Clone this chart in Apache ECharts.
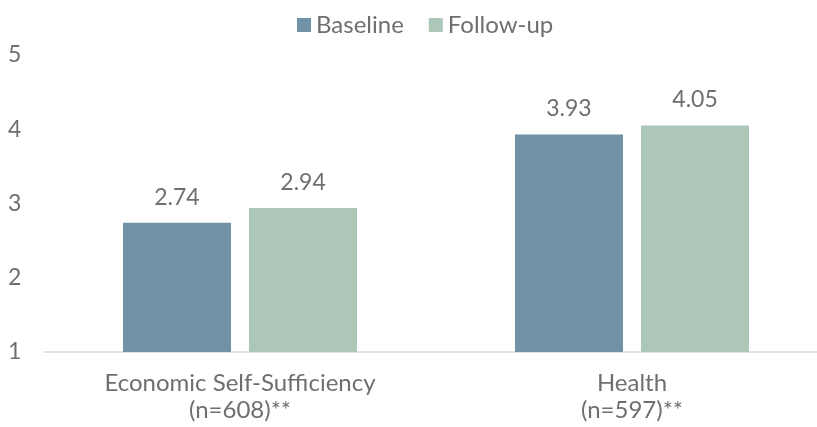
<!DOCTYPE html>
<html>
<head>
<meta charset="utf-8">
<script src="https://cdn.jsdelivr.net/npm/echarts@6/dist/echarts.min.js"></script>
<style>
  html, body { margin: 0; padding: 0; background: #fff; overflow: hidden; }
  #wrap { width: 817px; height: 427px; overflow: hidden; }
  #chart { width: 828px; height: 427px; }
</style>
</head>
<body>
<div id="wrap"><div id="chart"></div></div>
<script>
// Mean scores at baseline and follow-up by domain
const categories = ['Economic Self-Sufficiency\n(n=608)**', 'Health\n(n=597)**'];
const baseline = [2.74, 3.93];
const followUp = [2.94, 4.05];
const seriesNames = ['Baseline', 'Follow-up'];
const yTicks = [1, 2, 3, 4, 5];

const textColor = '#6f6f6f';
const font = 'Lato, "Noto Sans", sans-serif';
const numSize = 23;
const textSize = 24;

const chart = echarts.init(document.getElementById('chart'), null, { renderer: 'canvas' });

const labelOpt = {
  show: true,
  position: 'top',
  distance: 14,
  color: textColor,
  fontSize: numSize,
  fontFamily: font,
  formatter: p => p.value.toFixed(2)
};

chart.setOption({
  animation: false,
  textStyle: { fontFamily: font },
  legend: {
    top: 13,
    left: 297,
    padding: 0,
    itemWidth: 14,
    itemHeight: 14,
    itemGap: 25,
    icon: 'rect',
    textStyle: { color: textColor, fontSize: textSize, fontFamily: font },
    data: seriesNames
  },
  grid: { left: 44, right: 0, top: 55, bottom: 75, containLabel: false },
  xAxis: {
    type: 'category',
    data: categories,
    axisLine: { show: true, lineStyle: { color: '#d9d9d9', width: 1.5 } },
    axisTick: { show: false },
    axisLabel: {
      color: textColor,
      fontSize: textSize,
      fontFamily: font,
      lineHeight: 27,
      margin: 18
    }
  },
  yAxis: {
    type: 'value',
    min: yTicks[0],
    max: yTicks[yTicks.length - 1],
    interval: 1,
    splitLine: { show: false },
    axisLine: { show: false },
    axisTick: { show: false },
    axisLabel: {
      color: textColor,
      fontSize: numSize,
      fontFamily: font,
      margin: 36,
      align: 'left'
    }
  },
  series: [
    {
      name: seriesNames[0],
      type: 'bar',
      data: baseline,
      barWidth: 108,
      barGap: '16.7%',
      itemStyle: { color: '#7092a6' },
      label: labelOpt
    },
    {
      name: seriesNames[1],
      type: 'bar',
      data: followUp,
      barWidth: 108,
      barGap: '16.7%',
      itemStyle: { color: '#acc6b7' },
      label: labelOpt
    }
  ]
});
</script>
</body>
</html>
